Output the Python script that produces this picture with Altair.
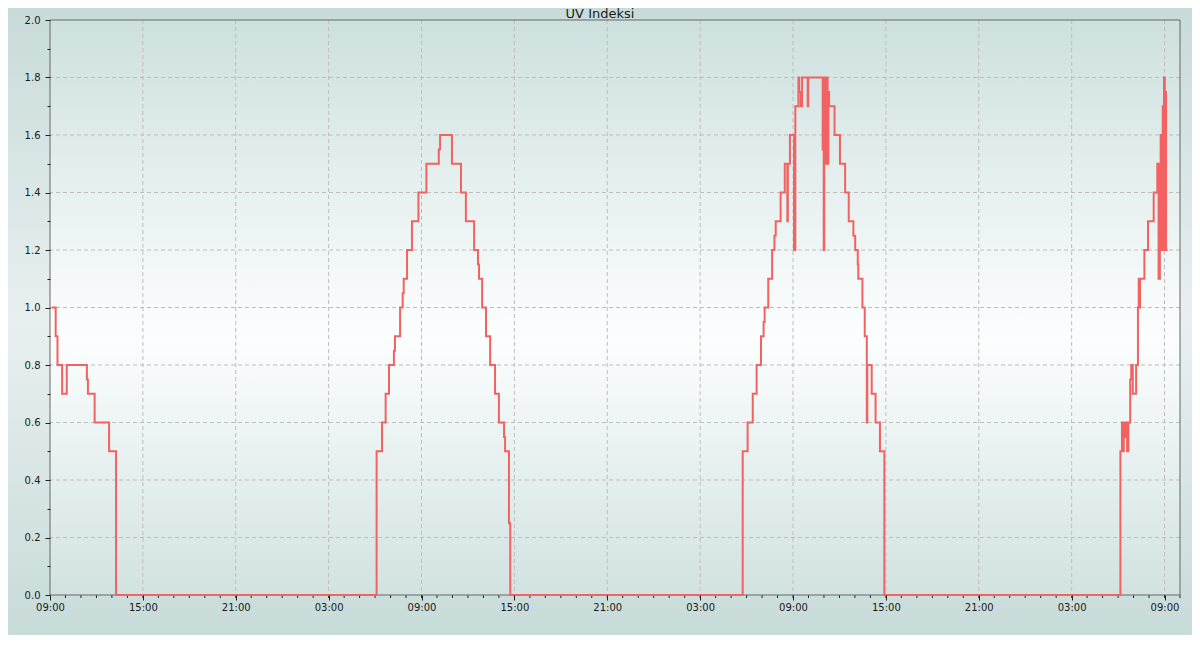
import altair as alt
import pandas as pd
import numpy as np

# ---- data: minutes since 2024-06-10 09:00 and UV index (step changes) ----
START = pd.Timestamp("2024-06-10 09:00")
TITLE = "UV Indeksi"

day1_min = [7, 22, 29, 47, 65, 143, 147, 173, 229, 256]
day1_uv = [1.0, 0.9, 0.8, 0.7, 0.8, 0.75, 0.7, 0.6, 0.5, 0.0]

day2_min = [1266, 1287, 1301, 1314, 1333, 1337, 1357, 1367, 1371, 1384,
            1403, 1428, 1459, 1507, 1512, 1558, 1593, 1612, 1644, 1659,
            1663, 1675, 1690, 1706, 1725, 1740, 1760, 1764, 1779, 1784]
day2_uv = [0.5, 0.6, 0.7, 0.8, 0.85, 0.9, 1.0, 1.05, 1.1, 1.2,
           1.3, 1.4, 1.5, 1.55, 1.6, 1.5, 1.4, 1.3, 1.2, 1.15,
           1.1, 1.0, 0.9, 0.8, 0.7, 0.6, 0.55, 0.5, 0.25, 0.0]

day3_min = [2685, 2704, 2724, 2739, 2756, 2766, 2770, 2784, 2799, 2808,
            2813, 2832, 2848, 2858, 2860, 2868, 2884, 2889, 2901, 2904,
            2910, 2915, 2937, 2939, 2995, 2997, 2999, 3001, 3004, 3007,
            3014, 3017, 3020, 3041, 3062, 3082, 3096, 3114, 3121, 3131,
            3133, 3149, 3158, 3166, 3168, 3185, 3200, 3217, 3234]
day3_uv = [0.5, 0.6, 0.7, 0.8, 0.9, 0.95, 1.0, 1.1, 1.2, 1.25,
           1.3, 1.4, 1.5, 1.3, 1.5, 1.6, 1.2, 1.7, 1.8, 1.75,
           1.7, 1.8, 1.7, 1.8, 1.55, 1.8, 1.2, 1.8, 1.5, 1.8,
           1.5, 1.75, 1.7, 1.6, 1.5, 1.4, 1.3, 1.25, 1.2, 1.15,
           1.1, 1.0, 0.9, 0.6, 0.8, 0.7, 0.6, 0.5, 0.0]

day4_min = [4149, 4155, 4159, 4162, 4167, 4170, 4175, 4180, 4187, 4191,
            4197, 4210, 4217, 4220, 4223, 4225, 4242, 4256, 4278, 4292,
            4297, 4302, 4305, 4307, 4310, 4313, 4315, 4318, 4321, 4323,
            4326, 4332]
day4_uv = [0.5, 0.6, 0.5, 0.6, 0.55, 0.6, 0.5, 0.6, 0.75, 0.8,
           0.7, 0.8, 1.0, 1.1, 1.0, 1.1, 1.2, 1.3, 1.4, 1.5,
           1.1, 1.5, 1.6, 1.2, 1.6, 1.7, 1.2, 1.8, 1.2, 1.75,
           1.2, 1.2]

y_ticks = [round(i * 0.1, 1) for i in range(21)]
y_grid = [0.2, 0.4, 0.6, 0.8, 1.0, 1.2, 1.4, 1.6, 1.8]

all_min = day1_min + day2_min + day3_min + day4_min
all_uv = day1_uv + day2_uv + day3_uv + day4_uv

FMT = "%Y-%m-%dT%H:%M:%S"
df = pd.DataFrame({
    "t": (START + pd.to_timedelta(all_min, unit="min")).strftime(FMT),
    "uv": all_uv,
})

major_times = pd.date_range("2024-06-10 09:00", "2024-06-13 09:00", freq="6h")
minor_times = pd.date_range("2024-06-10 10:00", "2024-06-13 10:00", freq="h")
vgrid_df = pd.DataFrame({"gt": major_times[1:].strftime(FMT)})
xtick_df = pd.DataFrame({"gt": minor_times.strftime(FMT)})
hgrid_df = pd.DataFrame({"gv": y_grid})

W, H = 1130, 575
PL, PT, PR, PB = 42, 12, 12, 40

xscale = alt.Scale(domain=[alt.DateTime(year=2024, month=6, date=10, hours=9),
                           alt.DateTime(year=2024, month=6, date=13, hours=10)])
yscale = alt.Scale(domain=[0, 2], nice=False)

x_values = [alt.DateTime(year=ts.year, month=ts.month, date=ts.day, hours=ts.hour)
            for ts in major_times]
y_major = "round(datum.value * 10) % 2 == 0"

x_axis = alt.Axis(
    title="", grid=False, domain=False, values=x_values, format="%H:%M",
    tickColor="#222222", tickWidth=1, tickSize=5,
    labelFont="DejaVu Sans", labelFontSize=10, labelColor="#1a1a1a",
    labelPadding=2, labelOverlap=False, labelFlush=False, zindex=1)
y_axis = alt.Axis(
    title="", grid=False, domain=False, values=y_ticks,
    tickColor="#222222", tickWidth=1,
    tickSize={"condition": {"test": y_major, "value": 5}, "value": 3},
    labelExpr=y_major + " ? format(datum.value, '.1f') : ''",
    labelFont="DejaVu Sans", labelFontSize=10, labelColor="#1a1a1a",
    labelPadding=5, labelOverlap=False, zindex=1)

page_grad = alt.Gradient(gradient="linear", x1=0, x2=0, y1=0, y2=1, stops=[
    alt.GradientStop(color="#c7dbd9", offset=0),
    alt.GradientStop(color="#e8f0ef", offset=0.5),
    alt.GradientStop(color="#c7dbd9", offset=1)])
plot_grad = alt.Gradient(gradient="linear", x1=0, x2=0, y1=0, y2=1, stops=[
    alt.GradientStop(color="#cde0de", offset=0),
    alt.GradientStop(color="#fcfefe", offset=0.55),
    alt.GradientStop(color="#d1e2e1", offset=1)])

one = alt.Data(values=[{}])

page_bg = alt.Chart(one).mark_rect(color=page_grad).encode(
    x=alt.value(-PL), x2=alt.value(W + PR), y=alt.value(-PT), y2=alt.value(H + PB))
plot_bg = alt.Chart(one).mark_rect(color=plot_grad).encode(
    x=alt.value(0), x2=alt.value(W), y=alt.value(0), y2=alt.value(H))

vgrid = alt.Chart(vgrid_df).mark_rule(color="#bdbdbd", strokeDash=[4, 3], strokeWidth=1).encode(
    x=alt.X("gt:T", scale=xscale, axis=x_axis))
hgrid = alt.Chart(hgrid_df).mark_rule(color="#bdbdbd", strokeDash=[4, 3], strokeWidth=1).encode(
    y=alt.Y("gv:Q", scale=yscale, axis=y_axis))
xminor = alt.Chart(xtick_df).mark_rule(color="#222222", strokeWidth=1).encode(
    x=alt.X("gt:T", scale=xscale, axis=x_axis),
    y=alt.value(H), y2=alt.value(H + 3))

border = alt.Chart(one).mark_rect(filled=False, color="#666666", strokeWidth=1).encode(
    x=alt.value(0), x2=alt.value(W), y=alt.value(0), y2=alt.value(H))

line = alt.Chart(df).mark_line(interpolate="step-after", color="#f26262", strokeWidth=2).encode(
    x=alt.X("t:T", scale=xscale, axis=x_axis),
    y=alt.Y("uv:Q", scale=yscale, axis=y_axis),
)

title = alt.Chart(one).mark_text(
    font="DejaVu Sans", fontSize=13, color="#1a1a1a", align="center", baseline="alphabetic"
).encode(x=alt.value(W / 2 - 15), y=alt.value(-2), text=alt.value(TITLE))

chart = alt.layer(page_bg, plot_bg, vgrid, hgrid, xminor, border, line, title).properties(
    width=W, height=H,
    padding={"left": PL, "top": PT, "right": PR, "bottom": PB},
    autosize=alt.AutoSizeParams(type="none"),
    background="#d6e4e3",
).configure_view(stroke="transparent")

chart.save("out.html", embed_options={"renderer": "svg", "actions": False})
